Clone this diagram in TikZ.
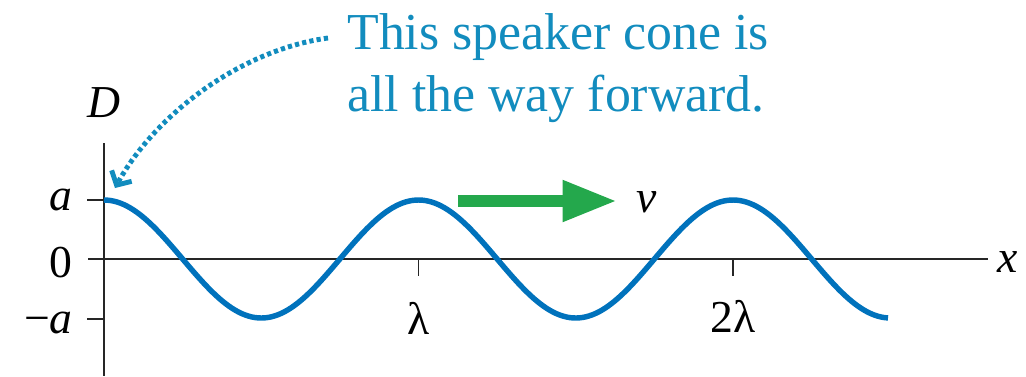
\documentclass[tikz,border=0pt]{standalone}
\usepackage{fontspec}
\setmainfont{Liberation Serif}
\usetikzlibrary{arrows.meta,positioning,calc}
\definecolor{waveblue}{RGB}{0,114,188}
\definecolor{noteblue}{RGB}{18,140,190}
\definecolor{arrowgreen}{RGB}{36,168,76}

\begin{document}
\begin{tikzpicture}[
        x=0.02cm, y=-0.02cm,
        axis/.style={
            line width=1.1pt,
            draw=black!85
        },
        lbl/.style={
            inner sep=0pt,
            font=\fontsize{26}{30}\selectfont
        },
        wave/.style={
            line width=3.1pt,
            draw=waveblue
        },
        velo/.style={
            line width=6.8pt,
            draw=arrowgreen,
            -{Triangle[length=31pt,width=22pt]}
        },
        pointer/.style={
            line width=2.8pt,
            draw=noteblue,
            dash pattern=on 2.4pt off 1.8pt,
            -{Straight Barb[length=6pt,width=13pt]}
        }
    ]
        \useasboundingbox (0,0) rectangle (1026,376);

        % Axes
        \coordinate (o) at (104,259);
        \coordinate (ytop) at (104,143);
        \coordinate (ybot) at (104,376);
        \coordinate (xleft) at (88,259);
        \coordinate (xright) at (988,259);
        \draw[axis] (ytop) -- (ybot);
        \draw[axis] (xleft) -- (xright);

        % Ticks
        \coordinate (peak) at (104,200);
        \coordinate (trough) at (104,319);
        \coordinate (l1) at (418.5,259);
        \coordinate (l2) at (733,259);
        \draw[axis] (peak) -- ++(-17,0);
        \draw[axis] (trough) -- ++(-17,0);
        \draw[axis] (l1) -- ++(0,17);
        \draw[axis] (l2) -- ++(0,17);

        % Labels
        \node[lbl, anchor=base] (dlab) at (104,117) {\textit{D}};
        \node[lbl, anchor=base east] (alab) at (73,210) {\textit{a}};
        \node[lbl, anchor=base east] (zlab) at (73,277) {0};
        \node[lbl, anchor=base east] (malab) at (73,333) {−\textit{a}};
        \node[lbl, anchor=base] (lam1) at (418.5,334) {λ};
        \node[lbl, anchor=base] (lam2) at (733,332) {2λ};
        \node[lbl, anchor=base west] (xlab) at (997,272) {\textit{x}};

        % Wave
        \draw[wave] plot[domain=104:888, samples=240]
            (\x, {259-59*cos((\x-104)/314.5*360)});

        % Wave speed
        \node[lbl, anchor=base west] (v) at (636,212) {\textit{v}};
        \coordinate (vtail) at (458,201);
        \draw[velo] (vtail) -- ($(v.west |- vtail)+(-19,0)$);

        % Note
        \node[inner sep=0pt, anchor=north west, align=left, text=noteblue,
              font=\fontsize{29.5}{35.3}\selectfont] (note) at (347,13)
            {This speaker cone is\\all the way forward.};
        \draw[pointer] ([shift={(-19,25)}]note.north west)
            .. controls (240,50) and (155,115) .. ([shift={(11,-12)}]peak);
    \end{tikzpicture}
\end{document}
